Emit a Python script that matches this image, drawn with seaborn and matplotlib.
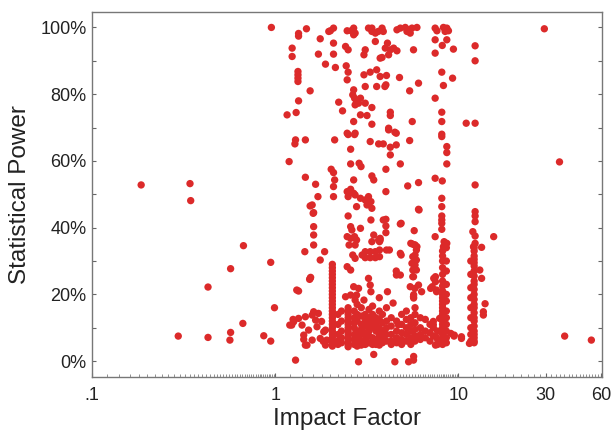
import numpy as np
import pandas as pd
import matplotlib
matplotlib.use('Agg')
import matplotlib.pyplot as plt
import matplotlib.ticker as mticker
import seaborn as sns

# isolated studies far from the main cluster
outlier_if = [0.185, 0.342, 0.345, 0.295, 0.429, 0.429, 0.565, 0.57, 0.57, 0.665,
              0.67, 0.865, 0.944, 0.944, 0.99, 0.952, 29.5, 35.7, 38.1, 53.3, 15.6, 14.0]
outlier_power = [52.8, 53.2, 48.1, 7.5, 7.1, 22.2, 6.3, 8.6, 27.7, 11.3,
                 34.6, 7.6, 6.0, 29.6, 16.0, 100, 99.6, 59.7, 7.5, 6.3, 37.3, 17.2]

# studies with power above 40%
upper_if = [1.34, 1.34, 1.48, 2.0, 2.08, 1.96, 2.47, 2.60, 2.68, 2.73, 2.68, 3.23, 3.37, 3.52,
            3.37, 3.65, 3.52, 3.89, 1.76, 2.08, 2.42, 2.50, 1.236, 1.236, 1.72, 2.08, 3.1, 3.05,
            3.74, 1.88, 2.13, 2.44, 1.33, 1.33, 1.33, 1.33, 2.5, 2.47, 3.05, 3.3, 3.58, 1.55,
            3.1, 3.58, 2.68, 2.65, 2.71, 2.78, 2.92, 2.85, 2.73, 3.1, 3.37, 1.34, 2.22, 1.30,
            1.16, 2.33, 2.92, 3.17, 3.37, 2.68, 2.47, 2.73,
            3.83, 4.62, 4.82, 5.13, 5.35, 5.58, 5.46, 5.94, 5.24, 7.47, 7.64, 8.29, 8.65, 8.47,
            8.83, 4.10, 3.99, 4.25, 4.43, 4.62, 4.16, 3.83, 5.69, 7.47, 8.65, 8.17, 9.40, 12.35,
            12.35, 7.47, 3.74, 4.05, 4.02, 3.97, 4.77, 6.06, 5.42, 8.12, 8.29, 9.3, 7.47, 4.25,
            4.25, 8.12, 8.12, 5.6, 11.04, 12.35, 4.16, 4.5, 8.12,
            1.29, 1.28, 1.46, 2.11, 2.50, 2.71, 2.58, 3.3, 3.67, 3.89, 1.19, 2.58, 2.87, 2.94,
            1.46, 2.02, 2.08, 2.11, 2.08, 2.08, 1.66, 1.71, 2.68, 3.37, 3.45, 2.47, 2.58, 2.68,
            2.50, 2.73, 2.92, 3.10, 3.23, 3.33, 3.17, 3.37, 2.78, 1.55, 1.62, 2.50, 3.33, 3.89,
            1.62, 2.58, 2.62, 2.92, 1.59, 1.61, 6.1, 4.87,
            4.16, 4.58, 4.25, 4.58, 4.25, 5.42, 8.12, 8.65, 8.65, 8.65, 4.82, 4.02, 6.06, 5.29,
            7.47, 8.17, 12.35, 4.02, 8.12, 8.12, 8.12, 8.12, 8.12, 6.06, 12.35, 12.35, 12.35,
            4.02, 4.02, 4.82]
upper_power = [98.2, 97.4, 99.6, 99, 99.8, 98.8, 99, 99, 99.8, 98.3, 97.8, 99.8, 99.8, 98.3,
               98.8, 98.8, 95.8, 98.8, 96.6, 95.3, 94.3, 93.3, 93.8, 91.3, 92.0, 92.0, 93.3, 91.8,
               90.8, 89.0, 88.0, 88.5, 86.8, 85.8, 84.8, 83.8, 86.6, 84.3, 85.8, 86.6, 87.3, 81.0,
               82.3, 82.3, 81.3, 79.8, 78.8, 77.8, 78.8, 77.3, 76.8, 77.3, 76.0, 78.0, 77.6, 74.5,
               73.8, 75.0, 73.8, 73.6, 71.0, 71.8, 68.3, 68.3,
               99.8, 99.3, 99.8, 100, 99.3, 99.8, 98.3, 100, 98.8, 99.8, 99, 100, 99.8, 98.8,
               99, 95.3, 93.8, 93.3, 93.8, 93.0, 91.8, 91.0, 93.3, 96.3, 96.3, 94.6, 93.5, 94.5,
               90.0, 92.3, 85.3, 85.6, 82.8, 82.3, 85.0, 83.3, 81.0, 86.6, 82.6, 84.8, 78.8, 74.6,
               73.6, 74.6, 71.8, 71.8, 71.3, 71.3, 69.8, 68.6, 68.0,
               66.3, 65.1, 66.3, 66.3, 67.9, 67.9, 63.5, 65.8, 65.1, 65.1, 59.8, 59.1, 59.3, 58.3,
               55.1, 57.5, 56.5, 54.3, 52.3, 49.3, 53.0, 49.3, 54.3, 55.5, 54.3, 50.8, 51.5, 50.3,
               49.3, 49.8, 48.8, 48.3, 49.3, 47.8, 46.8, 45.8, 46.3, 46.5, 44.5, 43.5, 42.3, 42.3,
               40.3, 40.3, 39.3, 39.8, 46.8, 44.3, 45.3, 41.3,
               69.3, 68.3, 64.1, 64.8, 61.8, 66.1, 67.3, 64.3, 62.5, 59.1, 59.1, 57.5, 53.5, 52.5,
               54.8, 54.0, 52.8, 50.8, 48.8, 46.3, 43.5, 42.3, 41.3, 45.5, 44.8, 43.5, 41.8,
               42.5, 40.5, 41.1]

# studies with power between 20% and 40%
mid_if = [1.62, 1.62, 2.47, 2.58, 2.71, 2.78, 2.53, 2.73, 3.45, 3.37, 3.67, 3.74,
          8.12, 4.02, 5.74, 7.47, 8.36, 8.65, 8.29, 12.0, 12.35, 12.35, 12.1, 13.4, 5.6, 5.94,
          3.74, 1.45, 1.86, 1.76, 1.31, 1.55, 1.56, 1.54, 1.34, 2.65, 2.73, 3.10, 3.30, 3.52,
          3.10, 3.30, 3.52, 2.98, 2.47, 2.58, 3.23, 3.30, 2.68, 2.85, 3.33,
          4.05, 4.82, 4.58, 4.82, 5.69, 5.46, 5.79, 6.06, 6.3, 7.34, 7.06, 7.6, 13.1, 13.4,
          3.71, 3.71, 3.71, 4.2, 4.1, 4.59, 4.87, 5.78, 5.64, 5.58, 5.64, 5.5, 5.64,
          5.8, 5.9, 5.8, 5.9, 5.8, 5.9, 7.5, 7.5, 7.2, 7.6]
mid_power = [37.8, 34.8, 37.3, 36.8, 37.3, 36.3, 34.8, 34.8, 37.8, 35.8, 36.3, 36.8,
             39.5, 38.5, 39.1, 37.3, 35.8, 35.3, 34.3, 38.8, 37.5, 35.3, 34.3, 34.1, 35.1, 34.3,
             36.3, 32.8, 32.8, 30.3, 21.3, 24.8, 25.1, 24.5, 21.0, 31.8, 30.8, 32.8, 32.8, 32.8,
             31.0, 31.0, 31.0, 31.8, 28.3, 27.3, 24.8, 22.8, 22.3, 21.8, 20.8,
             33.3, 32.3, 27.0, 25.8, 25.3, 22.3, 21.8, 22.8, 20.8, 24.8, 21.8, 20.8, 27.3, 24.8,
             35.8, 33.3, 31.3, 33.3, 20.8, 25.8, 31.8, 34.8, 31.3, 29.3, 27.3, 35.3, 25.3,
             34.8, 33.3, 31.8, 30.3, 28.8, 27.3, 25.3, 23.8, 22.3, 21.3]

# studies with power below 20%
low_if = [1.20, 1.26, 1.34, 1.40, 1.46, 1.52, 1.59, 1.66, 1.69, 1.72, 1.43, 1.49, 1.59, 1.76,
          1.88, 1.84, 1.91, 1.29, 1.79, 1.83, 3.45, 2.85, 4.4, 4.7, 5.7, 5.7, 5.7, 7.3, 7.3,
          1.23, 1.25, 1.46, 1.43, 1.62, 1.88, 2.78, 2.42, 2.58, 2.73, 3.05,
          9.1, 9.5, 10.4, 4.5, 5.35, 5.69, 13.7, 13.7, 9.47, 10.4, 11.5, 7.5, 7.5, 7.9, 5.69]
low_power = [10.8, 11.8, 12.8, 10.8, 13.3, 9.3, 13.8, 12.3, 10.3, 14.3, 7.8, 4.8, 6.3, 6.8,
             4.8, 8.8, 6.3, 0.3, 11.9, 5.9, 2.0, -0.2, 17.4, 10.9, 18.9, 19.9, 1.4, 11.9, 10.9,
             10.8, 12.5, 4.8, 6.5, 14.8, 9.3, 19.8, 19.3, 19.8, 18.3, 18.3,
             8.3, 7.8, 7.3, -0.2, -0.2, 0.3, 14.8, 13.8, 7.5, 6.8, 5.3, 7.5, 4.8, 12.8, 19.3]

# journals with many stacked studies at one impact factor
column_if = [2.05, 2.5, 8.2, 8.6, 12.2, 11.7]
column_powers = [
    [29, 28, 27, 26, 25, 24, 23, 22, 21, 20, 19, 18, 17, 16, 15, 14, 13, 12, 11, 10, 9, 8, 7, 6, 5, 4.5],
    [16, 15, 14, 13, 12, 11, 10, 9, 8, 7, 6, 5, 4.3],
    [33, 31.5, 30, 28, 26, 24, 22.5, 21, 20, 19, 18, 17, 16, 15, 14, 13, 12, 11, 10, 9, 8, 7, 6, 5],
    [34, 30, 27, 23, 20, 18, 15, 13, 11, 9, 7, 5.5],
    [34, 33, 31.5, 30.5, 29.5, 28.5, 27, 25.5, 24, 23, 21.5, 20, 18.5, 17, 16, 14.5, 13, 12,
     10.5, 9, 8, 7, 6, 5.5],
    [30, 26, 22, 19, 16, 13, 10, 8, 6],
]

# dense low-power cluster between impact factors ~2 and ~8
cluster_if = [2.2, 2.3, 2.7, 2.8, 2.95, 3.1, 3.25, 3.4, 3.55, 3.7, 3.85, 4.05, 4.3, 4.6,
              4.9, 5.2, 5.5, 5.8, 6.2, 6.6, 7.0, 7.3, 7.7]
cluster_powers = [
    [14, 11, 8, 6, 5],
    [15, 12, 9, 7, 5.5],
    [15, 13, 11.5, 10, 8, 6.5, 5],
    [17, 14, 12, 9, 7, 5.5, 4.5],
    [16, 13.5, 11, 9.5, 8, 6, 4.8],
    [14, 12, 10.5, 8.5, 6.5, 5],
    [15.5, 13, 11, 9, 7.5, 5.5],
    [16.5, 14, 12, 10, 7, 5],
    [13, 11, 9, 6.5, 5],
    [19, 15, 12.5, 10, 8, 6, 4.8],
    [14, 11.5, 9, 7, 5.5],
    [16, 12, 10, 8, 6],
    [13, 10.5, 8, 6, 5],
    [12, 9, 7, 5.5],
    [14, 11, 8.5, 6.5, 5],
    [15, 12.5, 10, 8, 6],
    [13, 11, 9, 7, 5],
    [16, 14, 11.5, 9.5, 7.5, 6],
    [13, 10, 8, 6.5],
    [12.5, 9, 7],
    [11, 8.5, 6],
    [10, 7.5],
    [9, 6.5, 5],
]


def main():
    xs = outlier_if + upper_if + mid_if + low_if
    ys = outlier_power + upper_power + mid_power + low_power
    for x, ps in zip(column_if + cluster_if, column_powers + cluster_powers):
        xs += [x] * len(ps)
        ys += ps
    df = pd.DataFrame({'impact': xs, 'power': ys})

    sns.set_style('ticks')
    plt.rcParams['font.family'] = ['Liberation Sans', 'DejaVu Sans']

    fig = plt.figure(figsize=(6.15, 4.32), dpi=100)
    ax = fig.add_axes([0.150, 0.127, 0.829, 0.845])

    sns.scatterplot(data=df, x='impact', y='power', ax=ax, color='#dc2a2a',
                    s=28, edgecolor='none', linewidth=0, alpha=1)

    ax.set_xscale('log')
    ax.set_xlim(0.1, 61)
    ax.set_ylim(-4.8, 104.6)

    ax.set_xticks([0.1, 1, 10, 30, 60])
    ax.set_xticklabels(['.1', '1', '10', '30', '60'])
    ax.xaxis.set_minor_locator(mticker.LogLocator(base=10, subs=np.arange(1.0, 10.0, 0.2), numticks=50))
    ax.xaxis.set_minor_formatter(mticker.NullFormatter())

    ax.set_yticks([0, 20, 40, 60, 80, 100])
    ax.set_yticklabels(['0%', '20%', '40%', '60%', '80%', '100%'])
    ax.yaxis.set_minor_locator(mticker.MultipleLocator(10))

    ax.tick_params(axis='both', which='both', direction='in', colors='#666666',
                   labelcolor='#222222', labelsize=13)
    ax.tick_params(axis='x', which='major', bottom=True, top=False, length=3, width=0.8, pad=7)
    ax.tick_params(axis='x', which='minor', bottom=True, top=False, length=2, width=0.5)
    ax.tick_params(axis='y', which='both', left=True, right=True, length=3, width=0.8, pad=4)

    for sp in ax.spines.values():
        sp.set_visible(True)
        sp.set_color('#777777')
        sp.set_linewidth(1.0)

    ax.set_xlabel('Impact Factor', fontsize=17.5, color='#222222', labelpad=3)
    ax.set_ylabel('Statistical Power', fontsize=17.5, color='#222222', labelpad=7)

    fig.savefig('out.png', dpi=100, facecolor='white')
    plt.close(fig)


if __name__ == '__main__':
    main()
